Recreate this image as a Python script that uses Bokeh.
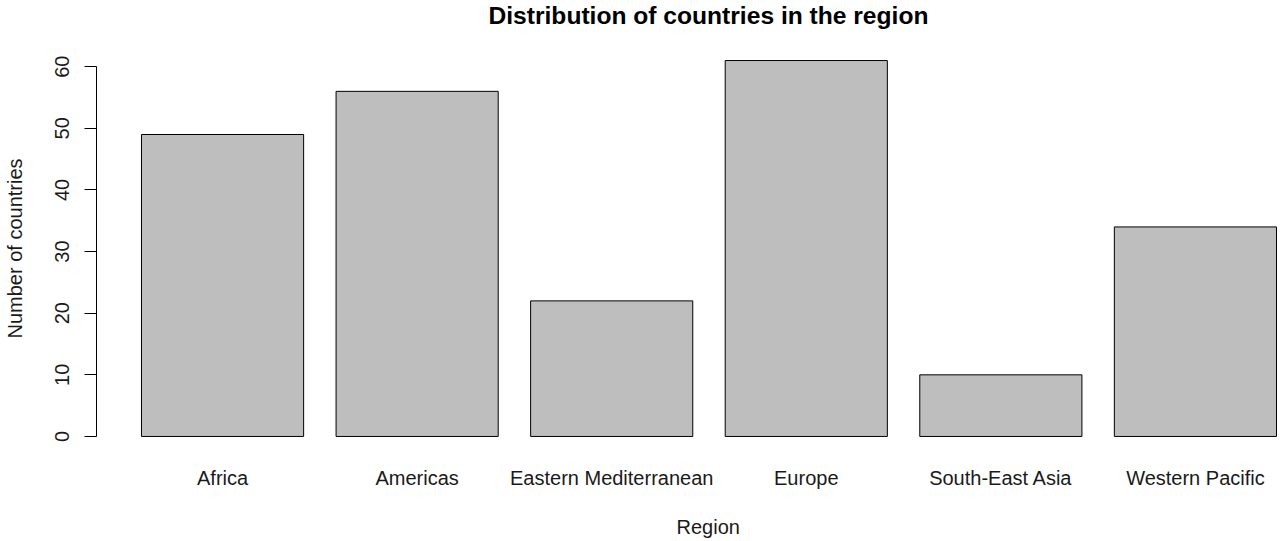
from bokeh.plotting import figure
from bokeh.models import Range1d, LinearAxis, FixedTicker, Title
from bokeh.embed import file_html
from bokeh.resources import INLINE

regions = ["Africa", "Americas", "Eastern Mediterranean", "Europe", "South-East Asia", "Western Pacific"]
counts = [49, 56, 22, 61, 10, 34]
y_ticks = [0, 10, 20, 30, 40, 50, 60]

# R barplot geometry: width 1, space 0.2
centers = [0.7 + 1.2 * i for i in range(len(regions))]

FONT = "Liberation Sans"
TXT = "#1a1a1a"

p = figure(width=1280, height=541, output_backend="svg", toolbar_location=None,
           x_range=Range1d(-0.0775, 7.2247), y_range=Range1d(-2.44, 63.44),
           x_axis_location=None, y_axis_location=None, title=None,
           min_border_left=96, min_border_right=0, min_border_top=45, min_border_bottom=90)
p.outline_line_color = None
p.grid.visible = False
p.background_fill_color = "white"

p.vbar(x=centers, top=counts, bottom=0, width=1.0, fill_color="#BEBEBE",
       line_color="black", line_width=1)

yax = LinearAxis(ticker=FixedTicker(ticks=y_ticks), bounds=(0, 60))
yax.major_label_orientation = "vertical"
yax.major_tick_out = 12
yax.major_tick_in = 0
yax.minor_tick_out = 0
yax.minor_tick_in = 0
yax.major_label_standoff = 15
yax.major_label_text_font = FONT
yax.major_label_text_font_size = "20px"
yax.major_label_text_color = TXT
yax.axis_line_color = "black"
yax.major_tick_line_color = "black"
yax.axis_label = "Number of countries"
yax.axis_label_text_font = FONT
yax.axis_label_text_font_size = "20px"
yax.axis_label_text_font_style = "normal"
yax.axis_label_text_color = TXT
yax.axis_label_standoff = 27
p.add_layout(yax, "left")

xax = LinearAxis(ticker=FixedTicker(ticks=centers),
                 major_label_overrides={c: r for c, r in zip(centers, regions)})
xax.axis_line_color = None
xax.major_tick_line_color = None
xax.minor_tick_line_color = None
xax.major_tick_out = 0
xax.major_tick_in = 0
xax.minor_tick_out = 0
xax.minor_tick_in = 0
xax.major_label_standoff = 15
xax.major_label_text_font = FONT
xax.major_label_text_font_size = "20px"
xax.major_label_text_color = TXT
p.add_layout(xax, "below")

# spacer between x axis and "Region" label
p.add_layout(Title(text=" ", text_font_size="1px", standoff=21), "below")
p.add_layout(Title(text="Region", align="left", offset=580, vertical_align="top",
                   standoff=0, text_font=FONT, text_font_size="20px",
                   text_font_style="normal", text_color=TXT), "below")

# spacer between frame and the main title
p.add_layout(Title(text=" ", text_font_size="1px", standoff=12), "above")
p.add_layout(Title(text="Distribution of countries in the region", align="left", offset=392,
                   vertical_align="top", standoff=0, text_font=FONT, text_font_size="24.6px",
                   text_font_style="bold", text_color="black"), "above")

open("out.html", "w").write(file_html(p, INLINE))
